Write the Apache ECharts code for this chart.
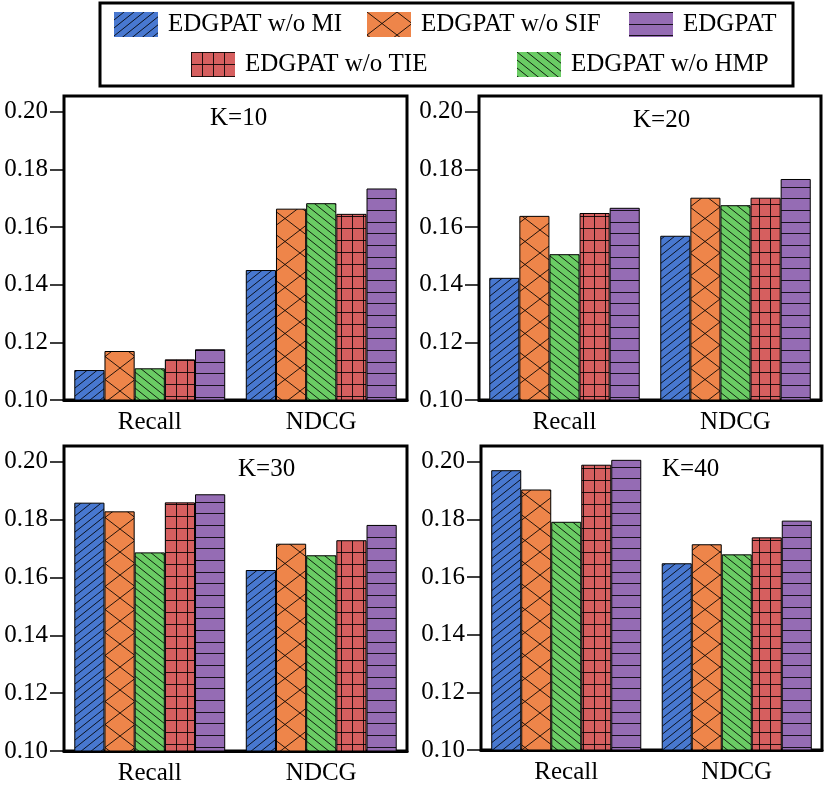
<!DOCTYPE html>
<html>
<head>
<meta charset="utf-8">
<script src="https://cdn.jsdelivr.net/npm/echarts@6/dist/echarts.min.js"></script>
<style>
  html, body { margin: 0; padding: 0; background: #fff; }
  #main { width: 831px; height: 786px; }
</style>
</head>
<body>
<div id="main"></div>
<script>
// panels and categories
var kLabels = ['K=10', 'K=20', 'K=30', 'K=40'];
var categories = ['Recall', 'NDCG'];
var yTicks = [0.10, 0.12, 0.14, 0.16, 0.18, 0.20];

// values per K panel: [Recall, NDCG]
var withoutMI  = [[0.1104, 0.1451], [0.1424, 0.1570], [0.1859, 0.1626], [0.1971, 0.1648]];
var withoutSIF = [[0.1170, 0.1664], [0.1639, 0.1702], [0.1829, 0.1717], [0.1904, 0.1714]];
var withoutHMP = [[0.1110, 0.1683], [0.1506, 0.1676], [0.1687, 0.1677], [0.1792, 0.1679]];
var withoutTIE = [[0.1141, 0.1646], [0.1649, 0.1702], [0.1860, 0.1729], [0.1990, 0.1738]];
var full       = [[0.1176, 0.1734], [0.1667, 0.1767], [0.1888, 0.1782], [0.2007, 0.1796]];

var FONT = 'Liberation Serif';

// hatch tiles
function tile(w, h, color, draw) {
  var c = document.createElement('canvas');
  c.width = w; c.height = h;
  var ctx = c.getContext('2d');
  ctx.fillStyle = color;
  ctx.fillRect(0, 0, w, h);
  ctx.strokeStyle = 'rgba(0,0,0,0.85)';
  ctx.lineWidth = 1;
  draw(ctx, w, h);
  return { image: c, repeat: 'repeat' };
}
function line(ctx, x1, y1, x2, y2) {
  ctx.beginPath(); ctx.moveTo(x1, y1); ctx.lineTo(x2, y2); ctx.stroke();
}
var fwd = function (ctx, w, h) {       // '/'
  line(ctx, -w, h * 2, w * 2, -h);
  line(ctx, -w * 2, h * 2, w, -h);
  line(ctx, 0, h * 2, w * 3, -h);
};
var back = function (ctx, w, h) {      // '\'
  line(ctx, -w, -h, w * 2, h * 2);
  line(ctx, -w * 2, -h, w, h * 2);
  line(ctx, 0, -h, w * 3, h * 2);
};
var cross = function (ctx, w, h) {     // 'x'
  line(ctx, 0, 0, w, h); line(ctx, 0, h, w, 0);
};
var plus = function (ctx, w, h) {      // '+'
  line(ctx, 0.5, 0, 0.5, h); line(ctx, 0, 0.5, w, 0.5);
};
var horiz = function (ctx, w, h) {     // '-'
  line(ctx, 0, 0.5, w, 0.5); line(ctx, 0, 12.5, w, 12.5); line(ctx, 0, 23.5, w, 23.5);
};

var methods = [
  { name: 'EDGPAT w/o MI',  vals: withoutMI,  fill: tile(10, 8, '#4878d0', fwd) },
  { name: 'EDGPAT w/o SIF', vals: withoutSIF, fill: tile(30, 23, '#ee854a', cross) },
  { name: 'EDGPAT w/o HMP', vals: withoutHMP, fill: tile(10, 8, '#6acc64', back) },
  { name: 'EDGPAT w/o TIE', vals: withoutTIE, fill: tile(11, 12, '#d65f5f', plus) },
  { name: 'EDGPAT',         vals: full,       fill: tile(4, 35, '#956cb4', horiz) }
];

var panels = [
  { left: 64,  top: 96,  width: 343, height: 304, title: [210, 106] },
  { left: 479, top: 96,  width: 342, height: 304, title: [633, 108] },
  { left: 64,  top: 446, width: 343, height: 305, title: [238, 457] },
  { left: 481, top: 446, width: 341, height: 304, title: [662, 457] }
];

var grids = [], xAxes = [], yAxes = [], titles = [], series = [];
panels.forEach(function (p, i) {
  grids.push({
    left: p.left, top: p.top, width: p.width, height: p.height,
    show: true, borderColor: '#000', borderWidth: 3, backgroundColor: 'transparent'
  });
  xAxes.push({
    type: 'category', gridIndex: i, data: categories,
    axisLine: { show: true, lineStyle: { color: '#000', width: 3 } },
    axisTick: { show: false },
    axisLabel: { color: '#000', fontFamily: FONT, fontSize: 25, margin: 10 }
  });
  yAxes.push({
    type: 'value', gridIndex: i, min: 0.10, max: 0.2055,
    splitLine: { show: false },
    axisLine: { show: false },
    axisTick: { show: true, length: 14, customValues: yTicks, lineStyle: { color: '#000', width: 1.5 } },
    axisLabel: {
      color: '#000', fontFamily: FONT, fontSize: 25, margin: 16, customValues: yTicks,
      formatter: function (v) { return v.toFixed(2); }
    }
  });
  titles.push({
    text: kLabels[i], left: p.title[0], top: p.title[1], padding: 0,
    textStyle: { color: '#000', fontFamily: FONT, fontSize: 25, fontWeight: 'normal', lineHeight: 25 }
  });
  methods.forEach(function (m) {
    series.push({
      name: m.name, type: 'bar', xAxisIndex: i, yAxisIndex: i,
      data: m.vals[i], barGap: '0%', barCategoryGap: '12%',
      itemStyle: { color: m.fill, borderColor: '#000', borderWidth: 1 },
      emphasis: { disabled: true }
    });
  });
});

// legend placement: one component per item, placed like the reference
var legendSpots = [
  { name: 'EDGPAT w/o MI',  left: 114, top: 12 },
  { name: 'EDGPAT w/o SIF', left: 367, top: 12 },
  { name: 'EDGPAT',         left: 629, top: 12 },
  { name: 'EDGPAT w/o TIE', left: 191, top: 52 },
  { name: 'EDGPAT w/o HMP', left: 517, top: 52 }
];
var legends = legendSpots.map(function (s) {
  return {
    data: [{ name: s.name, icon: 'rect' }], left: s.left, top: s.top, padding: 0,
    itemWidth: 44, itemHeight: 25, selectedMode: false,
    itemStyle: { borderWidth: 0 },
    textStyle: { color: '#000', fontFamily: FONT, fontSize: 25, padding: [0, 0, 0, 5] }
  };
});

var chart = echarts.init(document.getElementById('main'), null, { renderer: 'canvas' });
chart.setOption({
  animation: false,
  backgroundColor: '#fff',
  title: titles,
  legend: legends,
  grid: grids,
  xAxis: xAxes,
  yAxis: yAxes,
  series: series,
  graphic: [{
    type: 'rect', shape: { x: 100, y: 3, width: 693, height: 83 },
    style: { fill: 'none', stroke: '#000', lineWidth: 3 }, z: 10
  }]
});
</script>
</body>
</html>
